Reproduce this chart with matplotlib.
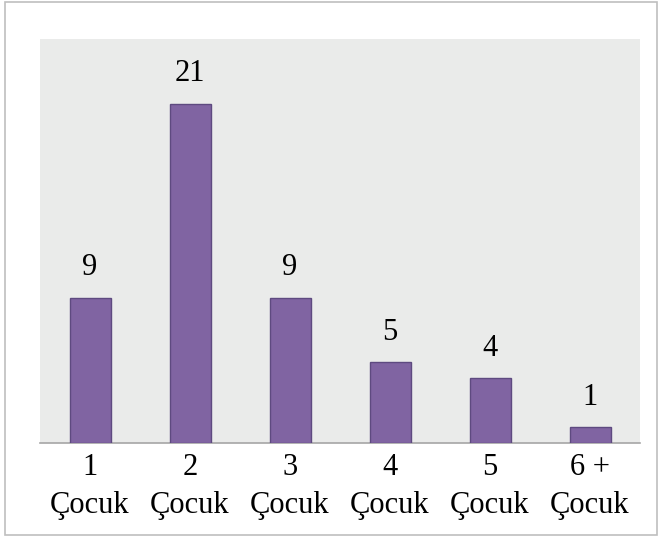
import matplotlib
matplotlib.use("Agg")
import matplotlib.pyplot as plt
from matplotlib.patches import Rectangle

categories = ["1\nÇocuk", "2\nÇocuk", "3\nÇocuk", "4\nÇocuk", "5\nÇocuk", "6 +\nÇocuk"]
values = [9, 21, 9, 5, 4, 1]

W, H = 662, 538
FONT = "Liberation Serif"
FS = 22
fig = plt.figure(figsize=(W / 100, H / 100), dpi=100)
fig.patch.set_facecolor("white")
fig.patches.append(Rectangle((5 / W, 1 - 535 / H), 652 / W, 533 / H, transform=fig.transFigure,
                             fill=False, edgecolor="#BFBFBF", linewidth=1.2))

ax = fig.add_axes([40 / W, 1 - 443 / H, 600 / W, 404 / H])
ax.set_facecolor("#EAEBEA")
x = list(range(len(values)))
ax.bar(x, values, width=0.41, color="#8064A2", edgecolor="#5E4A80", linewidth=1.0, zorder=3)
ax.set_xlim(-0.5, len(values) - 0.5)
ax.set_ylim(0, 25)
for xi, v in zip(x, values):
    ax.annotate(str(v), (xi, v), xytext=(0, 11), textcoords="offset points",
                ha="center", va="bottom", fontsize=FS, family=FONT)
for s in ["top", "left", "right"]:
    ax.spines[s].set_visible(False)
ax.spines["bottom"].set_color("#A6A6A6")
ax.spines["bottom"].set_linewidth(1.2)
ax.set_yticks([])
ax.set_xticks(x)
ax.set_xticklabels(categories, fontsize=FS, family=FONT, linespacing=1.42)
ax.tick_params(axis="x", length=0, pad=7)

fig.savefig("out.png", dpi=100)
